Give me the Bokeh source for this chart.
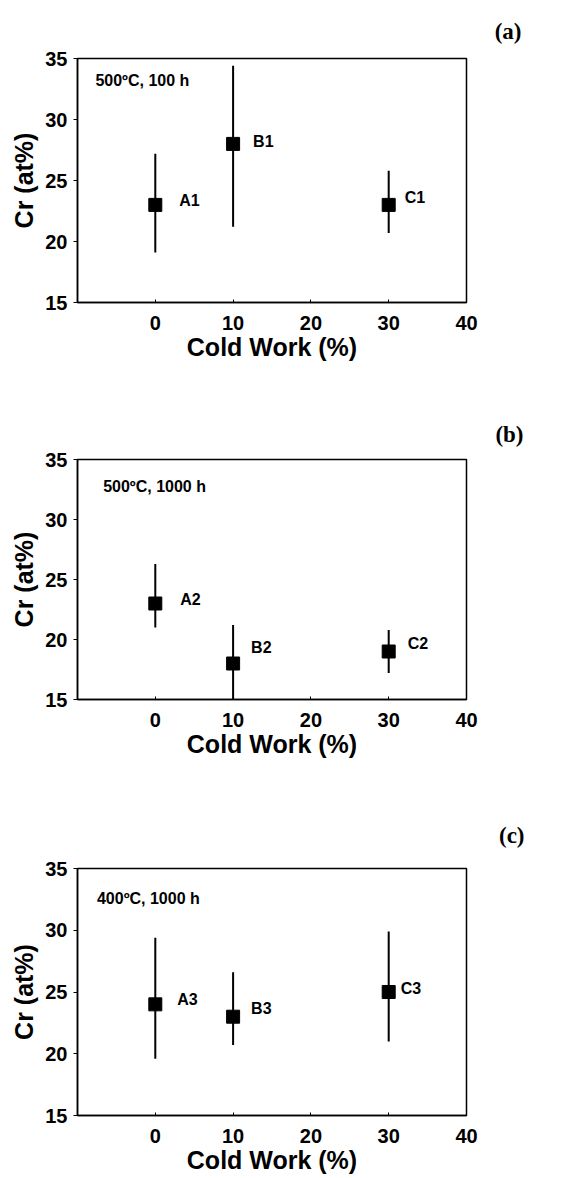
from bokeh.plotting import figure
from bokeh.models import Range1d, FixedTicker, Label, ColumnDataSource, Title
from bokeh.layouts import column
from bokeh.embed import file_html
from bokeh.resources import INLINE
from bokeh.core.properties import value

# ---------------- data ----------------
cold_work = [0, 10, 30]

names_a = ["A1", "B1", "C1"]
cr_a = [23.0, 28.0, 23.0]
lo_a = [19.1, 21.2, 20.7]
hi_a = [27.2, 34.4, 25.8]

names_b = ["A2", "B2", "C2"]
cr_b = [23.0, 18.0, 19.0]
lo_b = [21.0, 15.0, 17.2]
hi_b = [26.3, 21.2, 20.8]

names_c = ["A3", "B3", "C3"]
cr_c = [24.0, 23.0, 25.0]
lo_c = [19.6, 20.7, 21.0]
hi_c = [29.4, 26.6, 29.9]

conditions = ["500\u00baC, 100 h", "500\u00baC, 1000 h", "400\u00baC, 1000 h"]
panel_tags = ["(a)", "(b)", "(c)"]

x_ticks = [0, 10, 20, 30, 40]
y_ticks = [15, 20, 25, 30, 35]

# label offsets (pixels) for point names
lab_dx = [[24, 20, 16], [25, 18, 19], [22, 18, 12]]
lab_dy = [[-4, -2, -7], [-4, -16, -8], [-5, -8, -4]]

SANS = "Liberation Sans"
SERIF = "Liberation Serif"
W = 560


def make_panel(names, cr, lo, hi, cond, tag, dx, dy, height, b_left, b_right, b_top, b_bottom,
               cond_xy, tag_off, tag_standoff):
    p = figure(width=W, height=height, x_range=Range1d(-10, 40), y_range=Range1d(15, 35),
               output_backend="svg", toolbar_location=None,
               min_border_left=b_left, min_border_right=b_right,
               min_border_top=b_top, min_border_bottom=b_bottom)
    p.title = Title(text=tag, align="right", offset=tag_off, standoff=tag_standoff,
                    text_font=SERIF, text_font_style="bold", text_font_size="23px",
                    text_color="black")
    p.background_fill_color = "white"
    p.border_fill_color = "white"
    p.outline_line_color = "black"
    p.outline_line_width = 1.5
    p.xgrid.visible = False
    p.ygrid.visible = False

    p.xaxis.ticker = FixedTicker(ticks=x_ticks)
    p.yaxis.ticker = FixedTicker(ticks=y_ticks)
    for ax in (p.xaxis[0], p.yaxis[0]):
        ax.axis_line_color = "black"
        ax.axis_line_width = 1.5
        ax.major_tick_line_color = "black"
        ax.major_tick_line_width = 1
        ax.minor_tick_line_color = None
        ax.major_label_text_font = SANS
        ax.major_label_text_font_style = "bold"
        ax.major_label_text_font_size = "20px"
        ax.major_label_text_color = "black"
        ax.axis_label_text_font = SANS
        ax.axis_label_text_font_style = "bold"
        ax.axis_label_text_font_size = "25px"
        ax.axis_label_text_color = "black"
    p.xaxis.major_tick_in = 3
    p.xaxis.major_tick_out = 0
    p.yaxis.major_tick_in = 0
    p.yaxis.major_tick_out = 4
    p.xaxis.major_label_standoff = 13
    p.xaxis.axis_label_standoff = 0
    p.yaxis.major_label_standoff = 6
    p.yaxis.axis_label_standoff = 4
    p.xaxis.axis_label = "Cold Work (%)"
    p.yaxis.axis_label = "Cr (at%)"

    src = ColumnDataSource(dict(x=cold_work, y=cr, lo=lo, hi=hi, name=names, dx=dx, dy=dy))
    p.segment(x0="x", y0="lo", x1="x", y1="hi", source=src, line_color="black", line_width=2)
    p.scatter(x="x", y="y", source=src, marker="square", size=13,
              fill_color="black", line_color="black")
    p.text(x="x", y="y", text="name", x_offset="dx", y_offset="dy", source=src,
           text_font=value(SANS), text_font_style="bold", text_font_size="16px",
           text_baseline="middle", text_align="left", text_color="black")

    p.add_layout(Label(x=cond_xy[0], y=cond_xy[1], text=cond, text_font=SANS,
                       text_font_style="bold", text_font_size="16px",
                       text_baseline="middle", text_align="left", text_color="black"))
    return p


pa = make_panel(names_a, cr_a, lo_a, hi_a, conditions[0], panel_tags[0], lab_dx[0], lab_dy[0],
                388, 77, 89, 58, 86, (-7.7, 33.2), -55, 30)
pb = make_panel(names_b, cr_b, lo_b, hi_b, conditions[1], panel_tags[1], lab_dx[1], lab_dy[1],
                400, 76, 93, 71, 89, (-6.7, 32.75), -57, 26)
pc = make_panel(names_c, cr_c, lo_c, hi_c, conditions[2], panel_tags[2], lab_dx[2], lab_dy[2],
                388, 74, 94, 80, 60, (-7.5, 32.6), -58, 42)

layout = column(pa, pb, pc, spacing=0)
open("out.html", "w").write(file_html(layout, INLINE))
